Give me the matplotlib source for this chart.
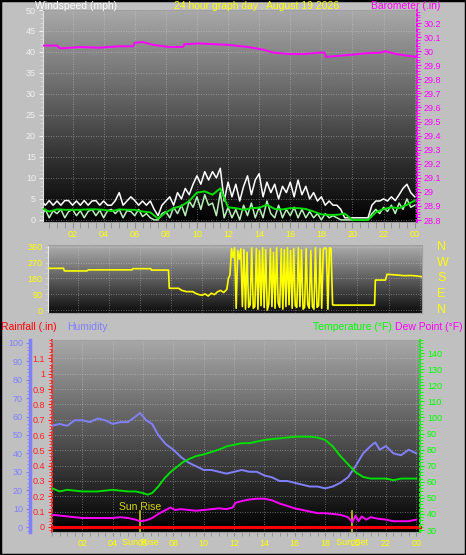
import numpy as np
import matplotlib.pyplot as plt
from matplotlib.ticker import MultipleLocator, FixedLocator, FuncFormatter
from matplotlib.transforms import blended_transform_factory
from matplotlib.patches import Rectangle

plt.rcParams['font.family'] = ['Liberation Sans', 'DejaVu Sans']

# ---- data (hours since midnight) ----
# wind, 15 minute samples 00:00 .. 24:00
wind_gust = [4.5, 3.5, 4.6, 3.5, 4.5, 3.5, 4.6, 4.6, 3.5, 4.5, 3.5, 4.6,
             3.5, 4.5, 4.6, 3.5, 4.5, 3.5, 3.5, 4.6, 6.5, 3.5, 4.5, 5.5,
             4.6, 3.5, 4.5, 3.5, 4.5, 2.5, 1.0, 3.5, 4.5, 5.5, 3.5, 6.5,
             5.0, 7.5, 6.0, 8.5, 10.5, 8.5, 11.5, 9.5, 11.5, 10.0, 12.3, 4.5,
             9.0, 5.5, 8.5, 4.5, 8.0, 10.5, 6.0, 9.5, 11.0, 5.5, 9.0, 6.5,
             8.5, 5.0, 8.0, 6.5, 9.0, 5.5, 9.5, 6.0, 8.0, 5.0, 6.5, 4.5,
             5.5, 3.5, 4.5, 3.5, 3.5, 2.5, 0.5, 0.5, 0.5, 0.5, 0.5, 0.5,
             0.5, 3.5, 4.5, 4.5, 5.0, 4.5, 5.5, 4.6, 6.0, 7.5, 8.5, 6.5, 5.5]
wind_speed = [1.0, 2.5, 0.5, 2.2, 1.5, 2.5, 0.5, 2.0, 2.5, 1.0, 2.2, 0.5,
              2.0, 2.5, 1.0, 2.3, 0.5, 2.2, 2.5, 1.5, 2.5, 0.5, 2.2, 2.0,
              1.0, 2.5, 0.8, 1.5, 0.5, 0.0, 0.0, 1.5, 2.0, 0.5, 3.0, 1.5,
              3.5, 1.0, 4.5, 3.0, 5.5, 2.5, 6.0, 3.5, 4.0, 1.0, 6.5, 0.5,
              3.0, 0.5, 2.5, 0.0, 3.5, 1.0, 4.0, 0.5, 3.0, 0.5, 4.5, 1.5,
              0.5, 3.5, 0.5, 2.5, 1.0, 3.0, 0.5, 2.5, 0.5, 2.0, 0.5, 1.5,
              0.0, 1.5, 0.5, 1.0, 0.5, 0.0, 0.0, 0.0, 0.0, 0.0, 0.0, 0.0,
              0.0, 1.5, 2.5, 1.5, 3.0, 2.0, 3.5, 1.5, 4.0, 2.5, 5.0, 3.0, 3.5]
# average wind, 30 minute samples
wind_avg = [2.8, 2.0, 2.5, 2.4, 2.4, 2.4, 2.5, 2.5, 2.4, 2.1, 2.5, 2.4,
            2.4, 2.0, 1.8, 0.3, 1.8, 2.8, 3.3, 4.5, 6.5, 6.8, 6.0, 7.5,
            3.0, 2.8, 2.4, 2.8, 2.9, 3.6, 2.6, 2.5, 2.8, 2.8, 2.6, 2.0,
            1.3, 1.2, 1.2, 1.5, 0.0, 0.0, 0.0, 1.8, 2.6, 3.0, 2.8, 3.6, 4.6]

baro_h = [0.1, 1.0, 1.2, 2.5, 3.7, 5.0, 5.9, 6.0, 6.5, 7.2, 8.2, 9.1, 9.2, 10.1,
          11.1, 12.0, 13.3, 14.3, 14.9, 15.9, 16.9, 17.9, 18.2, 18.3, 18.9,
          19.9, 20.8, 21.8, 22.1, 22.8, 23.4, 24.1]
baro = [30.04, 30.04, 30.02, 30.03, 30.025, 30.035, 30.035, 30.06, 30.065,
        30.045, 30.03, 30.03, 30.05, 30.055, 30.05, 30.045, 30.03, 30.01,
        29.99, 29.98, 29.98, 29.99, 29.99, 29.96, 29.965, 29.975, 29.985,
        29.99, 30.0, 29.98, 29.97, 29.96]

# wind direction
dir_h1 = [0.1, 0.4, 1.1, 1.15, 2.6, 2.7, 3.2, 5.5, 5.55, 6.7, 6.75, 7.85, 7.9,
          8.5, 8.7, 9.0, 9.4, 9.6, 9.8, 10.0, 10.2, 10.4, 10.6, 10.8, 11.0,
          11.2, 11.4, 11.6, 11.7]
dir_d1 = [238, 238, 238, 223, 223, 229, 229, 229, 236, 236, 228, 228, 124,
          124, 112, 105, 105, 95, 88, 84, 92, 80, 96, 88, 104, 112, 100, 118, 180]
# 6 minute samples 11.8 .. 18.4 while the vane swung around north
dir_swing = [200, 350, 300, 355, 10, 340, 290, 350, 20, 345,
             5, 330, 15, 30, 355, 10, 20, 350, 5, 340,
             25, 355, 15, 345, 0, 35, 350, 20, 330, 10,
             355, 40, 15, 350, 5, 345, 20, 355, 30, 340,
             10, 350, 25, 15, 355, 20, 345, 5, 15, 350,
             30, 10, 340, 20, 5, 355, 15, 25, 350, 10,
             345, 355, 350, 5, 355, 350, 30]
dir_h2 = [18.45, 21.1, 21.15, 21.8, 21.9, 22.5, 23.0, 23.5, 24.0, 24.15]
dir_d2 = [28, 28, 171, 171, 204, 200, 196, 197, 192, 190]

hum_h = [0.0, 0.5, 1.0, 1.5, 2.0, 2.5, 3.0, 3.5, 4.0, 4.5, 5.0, 5.5, 5.8, 6.2,
         6.6, 7.0, 7.5, 8.0, 8.5, 9.0, 9.5, 10.0, 10.5, 11.0, 11.5, 12.0, 12.5,
         13.0, 13.5, 14.0, 14.5, 15.0, 15.5, 16.0, 16.5, 17.0, 17.5, 18.0, 18.5,
         19.0, 19.5, 20.0, 20.5, 21.0, 21.3, 21.6, 22.0, 22.5, 23.0, 23.5, 24.0]
humidity = [55, 56, 55, 58, 58, 57, 59, 58, 56, 57, 57, 60, 62, 58, 56, 50, 45,
            42, 38, 35, 33, 31, 31, 30, 29, 30, 31, 30, 30, 28, 27, 25, 25, 24,
            23, 22, 22, 21, 22, 24, 27, 33, 40, 44, 46, 42, 44, 40, 39, 42, 40]

temp_h = [0, 0.5, 1, 2, 3, 4, 5, 5.5, 6, 6.3, 6.6, 7.0, 7.4, 7.8, 8.2, 8.6, 9.0,
          9.5, 10, 10.5, 11, 11.5, 12, 12.5, 13, 13.5, 14, 14.5, 15, 15.5, 16,
          16.5, 17, 17.5, 18, 18.5, 19, 19.5, 20, 20.5, 21, 21.5, 22, 22.5, 23,
          23.5, 24]
temperature = [56, 54, 55, 54, 54, 55, 54, 54, 53, 52, 53, 57, 62, 66, 69, 72,
               74, 76, 77, 78.5, 80, 82, 83, 84, 84, 85, 86, 86.5, 87, 87.5, 88,
               88, 88, 87.5, 86, 82, 76, 71, 66, 63, 62, 62, 62, 61, 62, 62, 62]

dew_h = [0, 0.5, 1, 1.5, 2, 2.5, 3, 3.5, 4, 4.5, 5, 5.5, 5.8, 6.2, 6.6, 7.0,
         7.4, 7.8, 8.1, 8.5, 9.0, 9.5, 10, 10.5, 11, 11.5, 11.9, 12.1, 12.5, 13,
         13.5, 14, 14.5, 15, 15.5, 16, 16.5, 17, 17.5, 18, 18.5, 19, 19.5, 19.8,
         20.0, 20.2, 20.4, 20.7, 21, 21.5, 22, 22.5, 23, 23.5, 24]
dew_point = [39.5, 39, 38.5, 38, 37.5, 37.5, 37.5, 37.5, 37.5, 38, 37.5, 36.5,
             35.5, 36, 37.5, 40, 42, 44, 42.5, 43, 42.5, 42, 42.5, 43, 43.5, 43,
             44, 47, 48, 49, 49.5, 49.5, 48.5, 46.5, 45, 43.5, 42.5, 41.5, 40.5,
             40.5, 40, 39.5, 38, 35, 39, 35.5, 38.5, 36.5, 38, 37, 36.5, 35.5,
             35.5, 35.5, 36.5]

rain_h = [0, 24.25]
rainfall = [0, 0]

sun_times = [5.82, 19.78]
sun_names = ['Sun Rise', 'Sun Set']
compass = ['N', 'E', 'S', 'W', 'N']
compass_deg = [0, 90, 180, 270, 360]

# ---- figure ----
W, H = 466, 555
fig = plt.figure(figsize=(W / 100, H / 100), dpi=100)
fig.patch.set_facecolor('#c0c0c0')


def px_axes(l, t, r, b):
    return fig.add_axes([l / W, 1 - b / H, (r - l) / W, (b - t) / H])


def shade(ax, top=0.66, bottom=0.0):
    grad = np.linspace(top, bottom, 200).reshape(-1, 1)
    ax.imshow(grad, cmap='gray', vmin=0, vmax=1, aspect='auto',
              extent=(0, 1, 0, 1), transform=ax.transAxes, zorder=0)
    ax.grid(True, which='major', color='#d8d8d8', ls=(0, (1, 2)), lw=0.6, alpha=0.55)


def hour_fmt(v, p):
    return '%02d' % (int(round(v)) % 24)


def num_fmt(v, p):
    return ('%.2f' % v).rstrip('0').rstrip('.')


YEL = '#ffff00'
MAG = '#ff00ff'
GRN = '#00ff00'
BLU = '#8080ff'
TS = 6.5

# top: wind speed + barometer
ax_w = px_axes(43, 10, 417, 222)
shade(ax_w)
ax_w.plot(np.linspace(0, 24, len(wind_gust)), wind_gust, color='white', lw=1.1, zorder=2)
ax_w.plot(np.linspace(0, 24, len(wind_speed)), wind_speed, color='#b8f0b8', lw=1.1, zorder=3)
ax_w.plot(np.linspace(0, 24, len(wind_avg)), wind_avg, color='#00e000', lw=1.4, zorder=4)
ax_w.set_xlim(0.1, 24.15)
ax_w.set_ylim(-0.5, 50)
ax_w.yaxis.set_major_locator(MultipleLocator(5))
ax_w.yaxis.set_minor_locator(MultipleLocator(1))
ax_w.xaxis.set_major_locator(FixedLocator(range(2, 25, 2)))
ax_w.xaxis.set_minor_locator(MultipleLocator(0.5))
ax_w.xaxis.set_major_formatter(FuncFormatter(hour_fmt))
ax_w.tick_params(axis='y', colors='#f0f0f0', labelsize=TS, length=3, pad=2)
ax_w.tick_params(axis='y', which='minor', colors='#d8d8d8', length=2)
ax_w.tick_params(axis='x', which='both', colors='#909090', labelcolor=YEL, labelsize=TS, length=4, pad=2)
for s in ['top', 'bottom', 'right']:
    ax_w.spines[s].set_color('#a0a0a0')
ax_w.spines['left'].set_color('#e0e0e0')

ax_b = ax_w.twinx()
ax_b.plot(baro_h, baro, color=MAG, lw=1.4)
ax_b.set_ylim(28.786, 30.293)
ax_b.yaxis.set_major_locator(MultipleLocator(0.1))
ax_b.yaxis.set_minor_locator(MultipleLocator(0.02))
ax_b.yaxis.set_major_formatter(FuncFormatter(num_fmt))
ax_b.tick_params(axis='y', colors=MAG, labelsize=TS, length=3, pad=2)
ax_b.tick_params(axis='y', which='minor', colors=MAG, length=2)
for s in ['top', 'bottom', 'left']:
    ax_b.spines[s].set_visible(False)
ax_b.spines['right'].set_color(MAG)
ax_b.spines['right'].set_linestyle(':')
ax_b.spines['right'].set_linewidth(1.4)

# middle: wind direction
ax_d = px_axes(48, 245, 422, 313)
shade(ax_d, 0.68, 0.05)
dir_h = list(dir_h1) + list(np.linspace(11.8, 18.4, len(dir_swing))) + list(dir_h2)
dir_d = dir_d1 + dir_swing + dir_d2
ax_d.plot(dir_h, dir_d, color=YEL, lw=1.2, zorder=3)
ax_d.set_xlim(0.1, 24.15)
ax_d.set_ylim(-17, 371)
ax_d.yaxis.set_major_locator(FixedLocator([0, 90, 180, 270, 360]))
ax_d.yaxis.set_minor_locator(MultipleLocator(30))
ax_d.xaxis.set_major_locator(FixedLocator(range(2, 25, 2)))
ax_d.tick_params(axis='y', which='both', colors='#d0d0d0', labelcolor=YEL, labelsize=TS, length=2, pad=2)
ax_d.tick_params(axis='x', which='both', length=0, labelbottom=False)
for s in ['top', 'bottom', 'right']:
    ax_d.spines[s].set_color('#a0a0a0')
ax_d.spines['left'].set_color('#e8e8e8')
tr = blended_transform_factory(ax_d.transAxes, ax_d.transData)
for name, deg in zip(compass, compass_deg):
    ax_d.text(1.04, deg, name, transform=tr, color=YEL, fontsize=9, va='center', ha='left')

# bottom: rain, humidity, temperature, dew point
ax_r = px_axes(52, 340, 420, 532)
shade(ax_r)
ax_r.set_xlim(0, 24.25)
ax_r.set_ylim(-0.033, 1.22)
ax_r.yaxis.set_major_locator(FixedLocator(np.round(np.arange(0, 1.15, 0.1), 1)))
ax_r.yaxis.set_minor_locator(MultipleLocator(0.02))
ax_r.yaxis.set_major_formatter(FuncFormatter(num_fmt))
ax_r.xaxis.set_major_locator(FixedLocator(range(2, 25, 2)))
ax_r.xaxis.set_minor_locator(MultipleLocator(0.5))
ax_r.xaxis.set_major_formatter(FuncFormatter(hour_fmt))
ax_r.tick_params(axis='y', which='both', colors='#ff2020', labelsize=TS, length=3, pad=2)
ax_r.tick_params(axis='y', which='minor', length=2)
ax_r.tick_params(axis='x', which='both', colors='#909090', labelcolor=YEL, labelsize=TS, length=3, pad=2)
for s in ['top', 'bottom', 'right']:
    ax_r.spines[s].set_color('#a0a0a0')
ax_r.spines['left'].set_color('#ff3030')
ax_r.spines['left'].set_linestyle(':')
ax_r.spines['left'].set_linewidth(1.4)

ax_h = ax_r.twinx()
ax_h.plot(hum_h, humidity, color=BLU, lw=1.4)
ax_h.set_ylim(-2.7, 101.6)
ax_h.yaxis.set_ticks_position('left')
ax_h.spines['left'].set_position(('axes', -0.06))
ax_h.yaxis.set_major_locator(MultipleLocator(10))
ax_h.yaxis.set_minor_locator(MultipleLocator(2))
ax_h.tick_params(axis='y', which='both', colors=BLU, labelsize=TS, length=3, pad=2)
ax_h.tick_params(axis='y', which='minor', length=2)
for s in ['top', 'bottom', 'right']:
    ax_h.spines[s].set_visible(False)
ax_h.spines['left'].set_color(BLU)
ax_h.spines['left'].set_linewidth(2.5)

ax_t = ax_r.twinx()
ax_t.plot(temp_h, temperature, color='#00dd00', lw=1.4)
ax_t.plot(dew_h, dew_point, color=MAG, lw=1.4)
ax_t.plot(rain_h, rainfall, color='red', lw=2.2, transform=ax_r.transData, clip_on=False)
ax_t.set_ylim(28.8, 148.1)
ax_t.yaxis.set_major_locator(MultipleLocator(10))
ax_t.yaxis.set_minor_locator(MultipleLocator(2))
ax_t.tick_params(axis='y', which='both', colors=GRN, labelsize=TS, length=3, pad=2)
ax_t.tick_params(axis='y', which='minor', length=2)
for s in ['top', 'bottom', 'left']:
    ax_t.spines[s].set_visible(False)
ax_t.spines['right'].set_color(GRN)
ax_t.spines['right'].set_linestyle(':')
ax_t.spines['right'].set_linewidth(1.4)

for t, name in zip(sun_times, sun_names):
    ax_r.axvline(t, ymin=0, ymax=0.11, color='#c8c800', lw=1.2, zorder=5)
    ax_r.annotate(name, (t, 0), xycoords=('data', 'axes fraction'), xytext=(0, -6),
                  textcoords='offset pixels', ha='center', va='top', color=YEL, fontsize=TS)
ax_t.text(sun_times[0], 44.3, sun_names[0], color='#d8d800', fontsize=7.5, ha='center', va='center')

# headings
def head(x, y, s, c, ha='left'):
    fig.text(x / W, 1 - y / H, s, color=c, fontsize=7.5, ha=ha, va='center')


head(35, 6, 'Windspeed (mph)', 'white')
head(257, 6, '24 hour graph day : August 19 2026', YEL, ha='center')
head(440, 6, 'Barometer (.in)', MAG, ha='right')
head(1, 327, 'Rainfall (.in)', 'red')
head(67, 327, 'Humidity', BLU)
head(313, 327, 'Temperature (°F)', GRN)
head(463, 327, 'Dew Point (°F)', MAG, ha='right')

fig.patches.append(Rectangle((0, 0), 1, 1, transform=fig.transFigure, fill=False,
                             edgecolor='black', lw=2.5))

fig.savefig('out.png', dpi=100, facecolor=fig.get_facecolor())
